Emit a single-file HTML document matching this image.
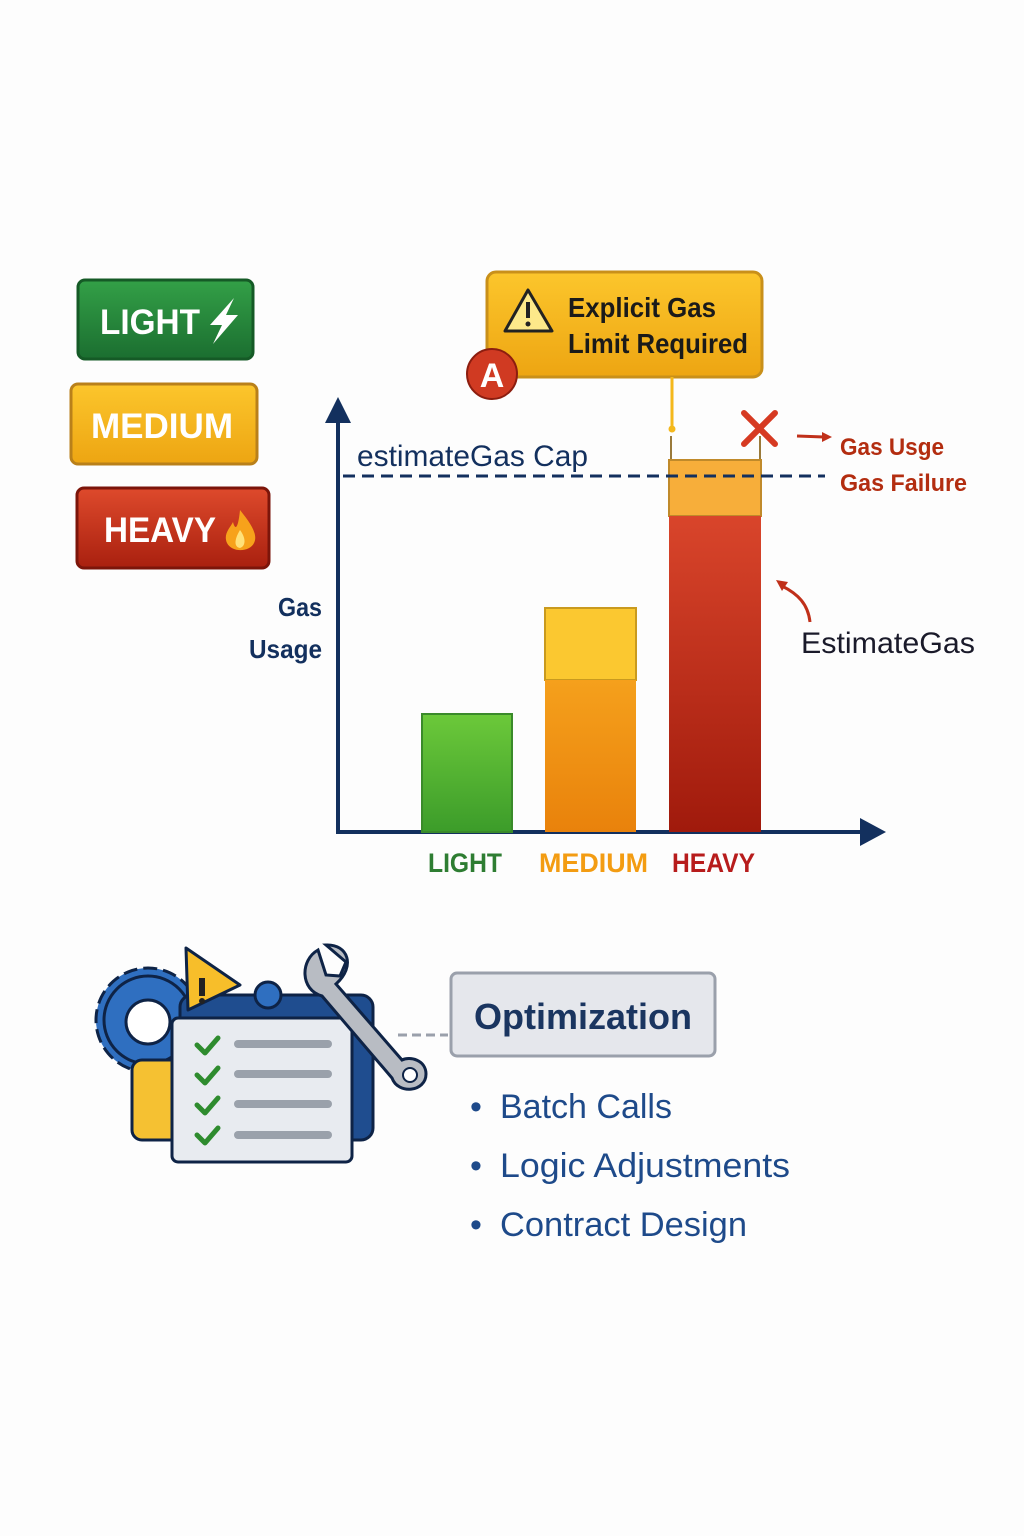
<!DOCTYPE html>
<html><head><meta charset="utf-8"><style>
html,body{margin:0;padding:0;background:#fdfdfd;}
svg{display:block;font-family:"Liberation Sans","DejaVu Sans",sans-serif;}
</style></head><body>
<svg width="1024" height="1536" viewBox="0 0 1024 1536" xmlns="http://www.w3.org/2000/svg">
<defs>
<linearGradient id="gG" x1="0" y1="0" x2="0" y2="1"><stop offset="0" stop-color="#33a047"/><stop offset="1" stop-color="#1b6e30"/></linearGradient>
<linearGradient id="gY" x1="0" y1="0" x2="0" y2="1"><stop offset="0" stop-color="#fcc62c"/><stop offset="1" stop-color="#eda512"/></linearGradient>
<linearGradient id="gR" x1="0" y1="0" x2="0" y2="1"><stop offset="0" stop-color="#de4a2c"/><stop offset="1" stop-color="#a9200f"/></linearGradient>
<linearGradient id="bG" x1="0" y1="0" x2="0" y2="1"><stop offset="0" stop-color="#6cc93a"/><stop offset="1" stop-color="#3c9c2a"/></linearGradient>
<linearGradient id="bO" x1="0" y1="0" x2="0" y2="1"><stop offset="0" stop-color="#f5a01c"/><stop offset="1" stop-color="#e9820b"/></linearGradient>
<linearGradient id="bR" x1="0" y1="0" x2="0" y2="1"><stop offset="0" stop-color="#d9452b"/><stop offset="1" stop-color="#a01a0c"/></linearGradient>
</defs>

<!-- badges -->
<rect x="78" y="280" width="175" height="79" rx="7" fill="url(#gG)" stroke="#155a26" stroke-width="3"/>
<text x="100" y="334" font-size="35" font-weight="bold" fill="#fff" textLength="100" lengthAdjust="spacingAndGlyphs">LIGHT</text>
<path d="M234 298 L210 325 L222 325 L213 344 L238 315 L226 315 Z" fill="#fff"/>
<rect x="71" y="384" width="186" height="80" rx="7" fill="url(#gY)" stroke="#b9801a" stroke-width="3"/>
<text x="91" y="438" font-size="35" font-weight="bold" fill="#fff" textLength="142" lengthAdjust="spacingAndGlyphs">MEDIUM</text>
<rect x="77" y="488" width="192" height="80" rx="7" fill="url(#gR)" stroke="#7c150a" stroke-width="3"/>
<text x="104" y="542" font-size="35" font-weight="bold" fill="#fff" textLength="112" lengthAdjust="spacingAndGlyphs">HEAVY</text>
<path d="M240 510 C252 525 258 535 254 543 C250 552 232 553 227 543 C223 534 230 528 233 522 C235 530 238 530 240 510 Z" fill="#f7a21b"/>
<path d="M240 530 C246 538 246 546 240 548 C234 547 234 540 240 530 Z" fill="#ffe17a"/>

<!-- callout -->
<rect x="487" y="272" width="275" height="105" rx="9" fill="url(#gY)" stroke="#c9901a" stroke-width="3"/>
<path d="M528 290 L552 331 L505 331 Z" fill="#fde98a" stroke="#222" stroke-width="3" stroke-linejoin="round"/>
<rect x="526" y="302" width="4" height="16" fill="#222"/><circle cx="528" cy="324" r="2.5" fill="#222"/>
<text x="568" y="317" font-size="28" font-weight="bold" fill="#1a1a1a" textLength="148" lengthAdjust="spacingAndGlyphs">Explicit Gas</text>
<text x="568" y="353" font-size="28" font-weight="bold" fill="#1a1a1a" textLength="180" lengthAdjust="spacingAndGlyphs">Limit Required</text>
<circle cx="492" cy="374" r="25" fill="#d03a22" stroke="#8c1d0f" stroke-width="2"/>
<text x="492" y="387" font-size="34" font-weight="bold" fill="#fff" text-anchor="middle">A</text>
<line x1="672" y1="377" x2="672" y2="428" stroke="#f4b81c" stroke-width="3"/>
<circle cx="672" cy="429" r="3.5" fill="#f4b81c"/>

<!-- axes -->
<line x1="338" y1="415" x2="338" y2="833" stroke="#13305e" stroke-width="4"/>
<path d="M325 423 L338 397 L351 423 Z" fill="#13305e"/>
<line x1="336" y1="832" x2="866" y2="832" stroke="#13305e" stroke-width="4"/>
<path d="M860 818 L886 832 L860 846 Z" fill="#13305e"/>
<text x="357" y="466" font-size="30" fill="#13305e" textLength="231" lengthAdjust="spacingAndGlyphs">estimateGas Cap</text>
<text x="322" y="616" font-size="26" font-weight="bold" fill="#13305e" text-anchor="end" textLength="44" lengthAdjust="spacingAndGlyphs">Gas</text>
<text x="322" y="658" font-size="26" font-weight="bold" fill="#13305e" text-anchor="end" textLength="73" lengthAdjust="spacingAndGlyphs">Usage</text>

<!-- bars -->
<rect x="422" y="714" width="90" height="118" fill="url(#bG)" stroke="#3a8a2a" stroke-width="2"/>
<rect x="545" y="608" width="91" height="72" fill="#fbc830" stroke="#c99a1e" stroke-width="2"/>
<rect x="545" y="680" width="91" height="152" fill="url(#bO)"/>
<line x1="671" y1="436" x2="671" y2="460" stroke="#9a7a3a" stroke-width="2"/>
<line x1="760" y1="436" x2="760" y2="460" stroke="#9a7a3a" stroke-width="2"/>
<rect x="669" y="460" width="92" height="56" fill="#f7ae3a" stroke="#c08a2a" stroke-width="2"/>
<rect x="669" y="516" width="92" height="316" fill="url(#bR)"/>
<line x1="343" y1="476" x2="825" y2="476" stroke="#13305e" stroke-width="3" stroke-dasharray="12,7"/>

<text x="428" y="872" font-size="27" font-weight="bold" fill="#2e7d32" textLength="74" lengthAdjust="spacingAndGlyphs">LIGHT</text>
<text x="539" y="872" font-size="27" font-weight="bold" fill="#f39c12" textLength="109" lengthAdjust="spacingAndGlyphs">MEDIUM</text>
<text x="672" y="872" font-size="27" font-weight="bold" fill="#b71c1c" textLength="83" lengthAdjust="spacingAndGlyphs">HEAVY</text>

<!-- red x and notes -->
<path d="M744 413 L775 444 M775 413 L744 444" stroke="#d63a22" stroke-width="6" stroke-linecap="round"/>
<line x1="797" y1="436" x2="824" y2="437" stroke="#c0301a" stroke-width="3"/>
<path d="M822 432 L832 437 L822 442 Z" fill="#c0301a"/>
<text x="840" y="455" font-size="24" font-weight="bold" fill="#b32d10" textLength="104" lengthAdjust="spacingAndGlyphs">Gas Usge</text>
<text x="840" y="491" font-size="24" font-weight="bold" fill="#b32d10" textLength="127" lengthAdjust="spacingAndGlyphs">Gas Failure</text>
<path d="M810 622 C808 604 798 594 782 586" stroke="#c0301a" stroke-width="3" fill="none"/>
<path d="M776 580 L788 582 L782 591 Z" fill="#c0301a"/>
<text x="801" y="653" font-size="30" fill="#1a1a2a" textLength="174" lengthAdjust="spacingAndGlyphs">EstimateGas</text>

<!-- illustration -->
<g stroke="#0e2346" stroke-width="3">
<circle cx="148" cy="1020" r="52" fill="#2f6fc0" stroke-dasharray="14,6"/>
<circle cx="148" cy="1020" r="44" fill="#2f6fc0"/>
<circle cx="148" cy="1022" r="22" fill="#fff"/>
<rect x="132" y="1060" width="60" height="80" rx="10" fill="#f5c132"/>
<rect x="180" y="995" width="193" height="145" rx="12" fill="#1f4d8f"/>
<circle cx="268" cy="995" r="13" fill="#2f6fc0"/>
<path d="M186 948 L240 985 L188 1010 Z" fill="#f7be2a" stroke-linejoin="round"/>
<rect x="172" y="1018" width="180" height="144" rx="6" fill="#e8ebf0"/>
<path d="M318 950 C300 960 300 990 322 996 L392 1078 C398 1095 426 1092 426 1074 C426 1060 410 1056 402 1060 L336 984 C356 966 348 944 326 945 L346 962 L340 976 L326 975 Z" fill="#b8bcc3"/>
</g>
<rect x="199" y="978" width="6" height="18" fill="#222"/><circle cx="202" cy="1001" r="3" fill="#222"/>
<circle cx="410" cy="1075" r="7" fill="#fff" stroke="#0e2346" stroke-width="2"/>
<g stroke="#2e8b2e" stroke-width="5" fill="none" stroke-linecap="round" stroke-linejoin="round">
<path d="M197 1045 L205 1053 L218 1038"/><path d="M197 1075 L205 1083 L218 1068"/>
<path d="M197 1105 L205 1113 L218 1098"/><path d="M197 1135 L205 1143 L218 1128"/>
</g>
<g stroke="#9aa1ab" stroke-width="8" stroke-linecap="round">
<line x1="238" y1="1044" x2="328" y2="1044"/><line x1="238" y1="1074" x2="328" y2="1074"/>
<line x1="238" y1="1104" x2="328" y2="1104"/><line x1="238" y1="1135" x2="328" y2="1135"/>
</g>
<line x1="398" y1="1035" x2="448" y2="1035" stroke="#9aa0ab" stroke-width="3" stroke-dasharray="9,5"/>

<!-- optimization -->
<rect x="451" y="973" width="264" height="83" rx="6" fill="#e5e7ec" stroke="#9aa0ab" stroke-width="3"/>
<text x="474" y="1029" font-size="36" font-weight="bold" fill="#1a3560" textLength="218" lengthAdjust="spacingAndGlyphs">Optimization</text>
<g font-size="34" fill="#1e4a8a">
<text x="470" y="1118">•</text><text x="500" y="1118" textLength="172" lengthAdjust="spacingAndGlyphs">Batch Calls</text>
<text x="470" y="1177">•</text><text x="500" y="1177" textLength="290" lengthAdjust="spacingAndGlyphs">Logic Adjustments</text>
<text x="470" y="1236">•</text><text x="500" y="1236" textLength="247" lengthAdjust="spacingAndGlyphs">Contract Design</text>
</g>
</svg>
</body></html>
